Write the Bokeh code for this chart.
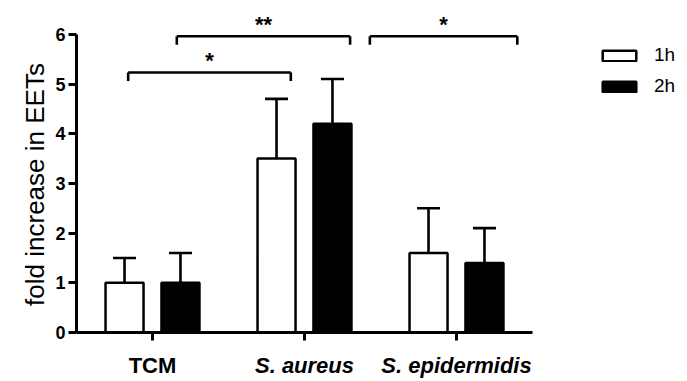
import math
from bokeh.plotting import figure
from bokeh.models import (Range1d, FixedTicker, Whisker, TeeHead, ColumnDataSource,
                          Legend, LegendItem)
from bokeh.core.properties import value
from bokeh.embed import file_html
from bokeh.resources import INLINE

# ---- data ----
categories = ["TCM", "S. aureus", "S. epidermidis"]
category_style = ["bold", "bold italic", "bold italic"]
series_names = ["1h", "2h"]
mean_1h = [1.0, 3.5, 1.6]
err_1h = [0.5, 1.2, 0.9]
mean_2h = [1.0, 4.2, 1.4]
err_2h = [0.6, 0.9, 0.7]
y_ticks = [0, 1, 2, 3, 4, 5, 6]
y_label = "fold increase in EETs"

# significance brackets (x in category units, y in data units)
sig_x0 = [0.84, 1.16, 2.43]
sig_x1 = [1.91, 2.30, 3.40]
sig_y = [5.23, 5.96, 5.96]
sig_text = ["*", "**", "*"]

FONT = "Liberation Sans"
offset = 0.184
bar_w = 0.25
PX = 49.7   # pixels per y unit
PXX = 152   # pixels per category

p = figure(width=687, height=381, output_backend="svg", toolbar_location=None,
           x_range=Range1d(0.5 - 76 / PXX, 0.5 + 611 / PXX), y_range=Range1d(-49 / PX, 322 / PX),
           min_border_left=0, min_border_right=0, min_border_top=10, min_border_bottom=0)
p.outline_line_color = None
p.xgrid.visible = False
p.ygrid.visible = False
p.background_fill_color = "white"
p.border_fill_color = "white"

xs = list(range(1, len(categories) + 1))
x1 = [x - offset for x in xs]
x2 = [x + offset for x in xs]

src1 = ColumnDataSource(dict(x=x1, top=mean_1h, upper=[m + e for m, e in zip(mean_1h, err_1h)]))
src2 = ColumnDataSource(dict(x=x2, top=mean_2h, upper=[m + e for m, e in zip(mean_2h, err_2h)]))

for src in (src1, src2):
    w = Whisker(source=src, base="x", lower="top", upper="upper", dimension="height",
                line_color="black", line_width=2.6,
                upper_head=TeeHead(size=23, line_color="black", line_width=2.6),
                lower_head=None, level="underlay")
    p.add_layout(w)

r1 = p.vbar(x="x", top="top", width=bar_w, source=src1, fill_color="white",
            line_color="black", line_width=2.5)
r2 = p.vbar(x="x", top="top", width=bar_w, source=src2, fill_color="black",
            line_color="black", line_width=2.5)

# brackets
drop = 0.17
bx0, by0, bx1, by1 = [], [], [], []
for a, b, y in zip(sig_x0, sig_x1, sig_y):
    bx0 += [a, a, b]; by0 += [y, y - drop, y]
    bx1 += [b, a, b]; by1 += [y, y, y - drop]
p.segment(x0=bx0, y0=by0, x1=bx1, y1=by1, line_color="black", line_width=2.6)
p.text(x=[(a + b) / 2 for a, b in zip(sig_x0, sig_x1)], y=[y + 0.24 for y in sig_y],
       text=sig_text, text_align="center", text_baseline="alphabetic",
       text_font=value(FONT), text_font_size="22px", text_font_style="bold", text_color="black")

# category labels under the axis
lab_src = ColumnDataSource(dict(x=xs, y=[-20 / PX] * len(xs), text=categories, style=category_style))
p.text(x="x", y="y", text="text", source=lab_src, text_align="center",
       text_baseline="top", text_font=value(FONT), text_font_size="22px",
       text_font_style="style", text_color="black")

# y-axis title
p.text(x=[0.5 - 42 / PXX], y=[(332 - 184) / PX], text=[y_label], angle=math.pi / 2,
       text_align="center", text_baseline="middle", text_font=value(FONT),
       text_font_size="26px", text_color="black")

# axes
xa = p.xaxis[0]
xa.fixed_location = 0
xa.ticker = FixedTicker(ticks=xs)
xa.bounds = (0.5, 3.5)
xa.axis_line_width = 3
xa.major_tick_line_width = 3
xa.major_tick_out = 8
xa.major_tick_in = 0
xa.minor_tick_line_color = None
xa.major_label_text_font_size = "0px"
xa.major_label_overrides = {x: "" for x in xs}

ya = p.yaxis[0]
ya.fixed_location = 0.5
ya.ticker = FixedTicker(ticks=y_ticks)
ya.bounds = (0, 6)
ya.axis_line_width = 3
ya.major_tick_line_width = 3
ya.major_tick_out = 8
ya.major_tick_in = 0
ya.minor_tick_line_color = None
ya.major_label_text_font = FONT
ya.major_label_text_font_size = "18px"
ya.major_label_text_font_style = "bold"
ya.major_label_text_color = "black"
ya.major_label_standoff = 3

legend = Legend(items=[LegendItem(label=series_names[0], renderers=[r1]),
                       LegendItem(label=series_names[1], renderers=[r2])],
                location=(598, 284), orientation="vertical",
                glyph_width=42, glyph_height=13, label_height=20, label_standoff=14,
                spacing=9, padding=0, margin=0, border_line_color=None,
                background_fill_alpha=0, label_text_font=FONT,
                label_text_font_size="19px", label_text_color="black")
p.add_layout(legend, "center")

open("out.html", "w").write(file_html(p, INLINE))
